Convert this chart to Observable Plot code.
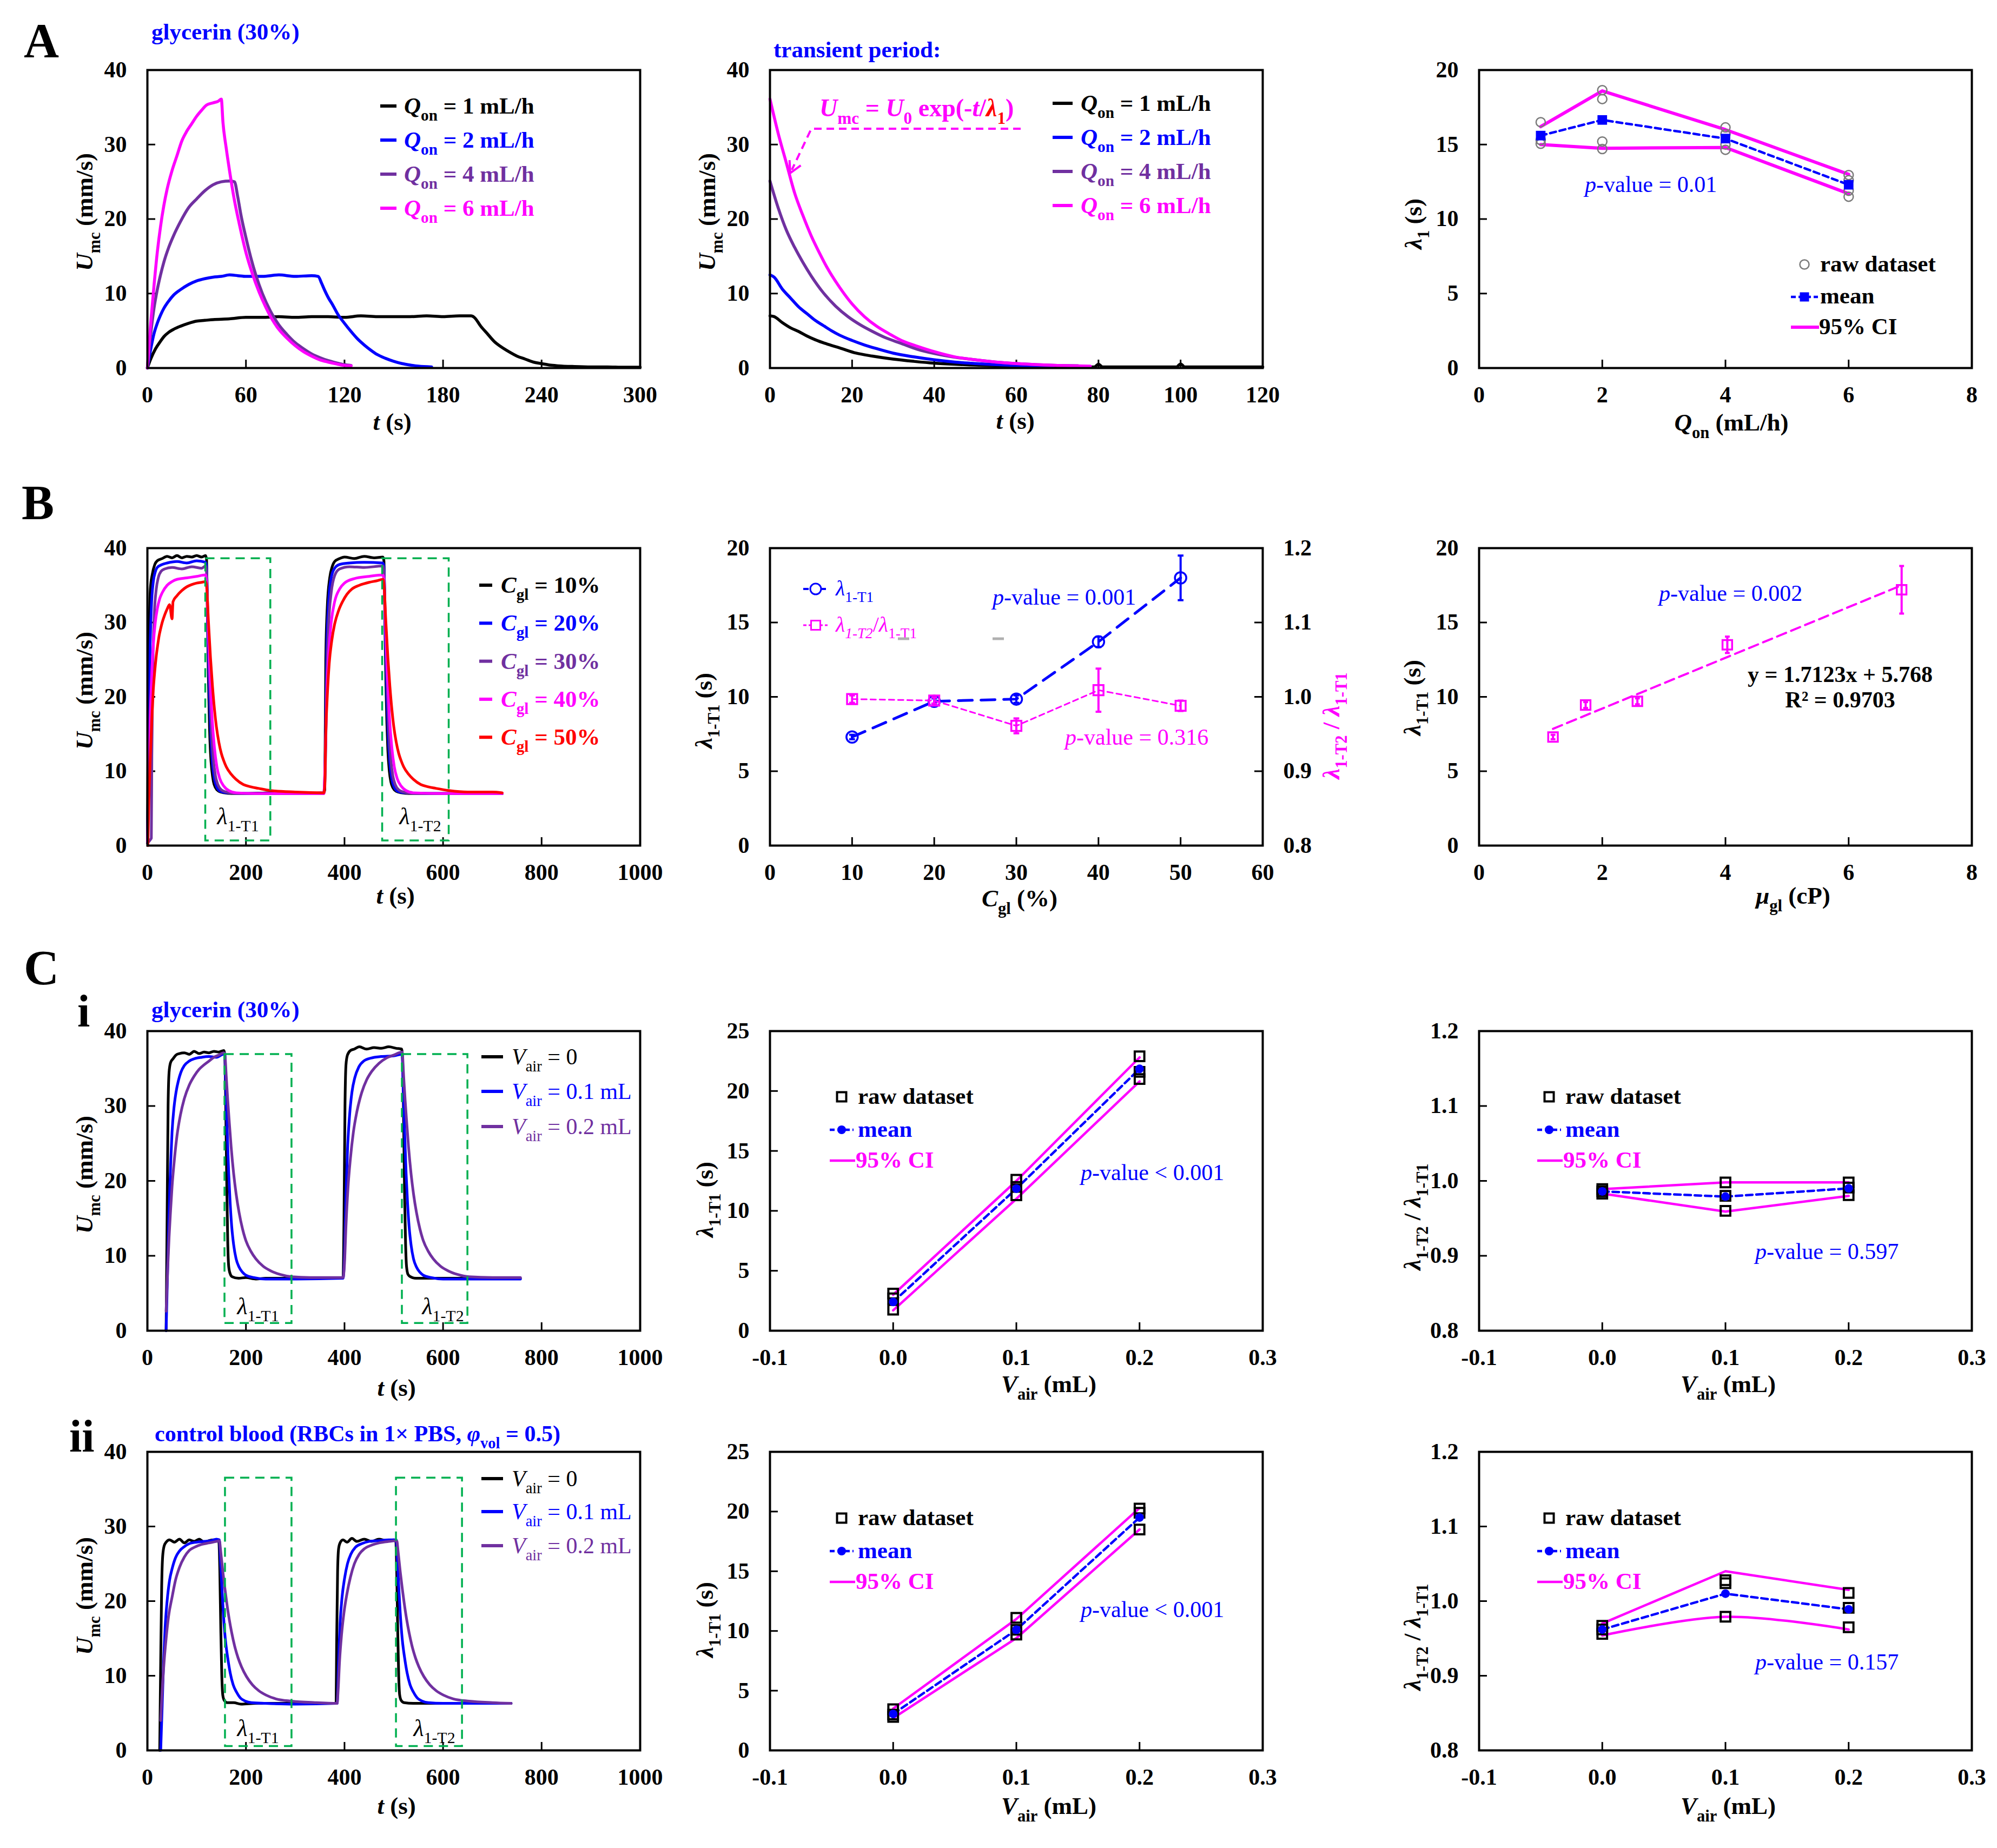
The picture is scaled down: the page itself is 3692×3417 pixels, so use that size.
<!DOCTYPE html>
<html><head><meta charset="utf-8">
<script src="https://cdn.jsdelivr.net/npm/d3@7"></script>
<script src="https://cdn.jsdelivr.net/npm/@observablehq/plot@0.6"></script>
<style>
html,body{margin:0;padding:0;background:#fff;}
#fig{position:relative;width:3692px;height:3417px;background:#fff;overflow:hidden;}
#fig svg{position:absolute;}
</style></head><body><div id="fig"></div>
<script>
// ---------------- DATA ----------------
// Panel A (left): U_mc vs t for Q_on = 1, 2, 4, 6 mL/h
const a1Q1 = [[0,0],[2,1.2],[5,2.6],[8,3.6],[10,4.2],[13,4.8],[16,5.2],[20,5.6],[25,6.0],[30,6.3],[35,6.4],[40,6.5],[50,6.6],[60,6.8],[70,6.8],[80,6.9],[90,6.8],[100,6.9],[110,6.9],[120,6.8],[130,7.0],[140,6.9],[150,6.9],[160,6.9],[170,7.0],[180,6.9],[190,7.0],[197,7.0],[199,6.8],[203,5.6],[207,4.6],[211,3.6],[215,2.9],[220,2.2],[225,1.6],[230,1.2],[235,0.8],[240,0.6],[245,0.4],[250,0.3],[260,0.2],[270,0.15],[280,0.15],[290,0.1],[300,0.1]];
const a1Q2 = [[0,0],[2,2.5],[4,4.6],[6,6.0],[8,7.1],[10,8.0],[13,9.0],[16,9.8],[20,10.5],[25,11.2],[30,11.7],[35,12.0],[40,12.2],[45,12.3],[50,12.5],[55,12.4],[60,12.3],[70,12.3],[80,12.5],[90,12.3],[100,12.4],[104,12.3],[106,11.4],[108,10.4],[110,9.5],[113,8.4],[116,7.2],[120,6.0],[124,4.9],[128,3.9],[132,3.1],[136,2.4],[140,1.8],[145,1.3],[150,0.9],[155,0.6],[160,0.4],[165,0.25],[173,0.15]];
const a1Q4 = [[0,0],[2,4.5],[4,8.0],[6,10.5],[8,12.5],[10,14.2],[13,16.2],[16,17.8],[20,19.6],[25,21.5],[30,22.7],[35,23.8],[40,24.6],[45,25.0],[50,25.1],[53,25.0],[55,23.0],[57,20.5],[60,17.5],[63,14.8],[66,12.5],[70,10.0],[75,7.6],[80,5.8],[85,4.5],[90,3.4],[95,2.6],[100,1.9],[105,1.4],[110,1.0],[115,0.7],[120,0.45],[124,0.35]];
const a1Q6 = [[0,0],[2,6],[4,11],[6,15.5],[8,19],[10,21.8],[12,24],[15,26.5],[18,28.5],[21,30.5],[24,31.8],[27,32.8],[30,33.8],[33,34.6],[36,35.3],[40,35.6],[43,35.8],[45,36.1],[46,33],[48,29.5],[50,26.5],[53,22.5],[56,19.3],[60,15.5],[64,12.6],[68,10.2],[72,8.2],[76,6.5],[80,5.2],[85,4.0],[90,3.0],[95,2.2],[100,1.6],[105,1.1],[110,0.8],[115,0.55],[120,0.35],[124,0.3]];
// Panel A (middle): transient period
const a2Q1 = [[0,7.0],[1,6.9],[3,6.1],[5,5.4],[7,4.9],[9,4.3],[11,3.8],[14,3.2],[17,2.7],[21,2.0],[25,1.6],[30,1.2],[35,0.9],[40,0.65],[45,0.5],[50,0.4],[55,0.3],[60,0.25],[70,0.2],[79,0.15],[80,0.5],[81,0.15],[90,0.15],[99,0.15],[100,0.55],[101,0.15],[110,0.15],[120,0.15]];
const a2Q2 = [[0,12.5],[1,12.2],[3,10.6],[5,9.4],[7,8.2],[9,7.3],[11,6.4],[13,5.7],[15,5.0],[17,4.4],[20,3.7],[23,3.1],[26,2.6],[30,2.0],[35,1.5],[40,1.1],[45,0.8],[50,0.6],[55,0.45],[60,0.35],[65,0.3],[69,0.25]];
const a2Q4 = [[0,25.1],[2,21.5],[4,18.5],[6,16.2],[8,14.2],[10,12.4],[13,10.1],[16,8.3],[19,6.9],[22,5.8],[25,4.9],[28,4.1],[32,3.3],[36,2.5],[40,1.95],[45,1.45],[50,1.1],[55,0.8],[60,0.6],[65,0.45],[70,0.35],[75,0.3]];
const a2Q6 = [[0,36.1],[2,31.5],[4,27.5],[6,23.5],[8,20.5],[10,17.8],[12,15.5],[14,13.4],[17,10.8],[20,8.6],[23,6.9],[26,5.6],[29,4.6],[32,3.7],[36,2.9],[40,2.2],[45,1.5],[50,1.1],[55,0.8],[60,0.6],[65,0.45],[70,0.35],[78,0.25]];
// Panel A (right): lambda_1 vs Q_on
const qon = [1, 2, 4, 6];
const a3Raw = [[1,16.5],[1,15.3],[1,15.05],[2,18.65],[2,18.05],[2,15.2],[2,14.7],[4,16.15],[4,15.7],[4,15.0],[4,14.65],[6,12.95],[6,12.6],[6,11.9],[6,11.5]];
const a3Mean = [15.6, 16.65, 15.4, 12.3];
const a3Hi = [16.2, 18.6, 16.0, 13.0];
const a3Lo = [15.0, 14.75, 14.8, 11.7];
// Panel B (left): U_mc vs t for C_gl = 10..50 %
const b1C10 = [[0,0.5],[2,20],[4,30],[6,34.5],[10,36.5],[15,37.8],[20,38.3],[30,38.6],[40,38.9],[50,38.7],[60,39.0],[70,38.7],[80,38.9],[90,38.8],[100,39.0],[110,38.8],[118,39.0],[120,38.5],[122,30],[124,22],[126,16],[128,12.5],[131,10],[134,8.6],[138,7.8],[145,7.3],[155,7.1],[170,7.0],[200,7.0],[250,7.1],[300,7.0],[358,7.1],[360,7.5],[362,25],[365,32],[370,36],[375,37.5],[380,38.2],[390,38.6],[400,38.8],[420,38.6],[440,38.9],[460,38.7],[478,38.8],[480,38.3],[482,30],[484,22],[486,16.5],[488,12.8],[491,10],[494,8.6],[498,7.8],[505,7.3],[515,7.1],[530,7.0],[600,7.0],[650,7.0],[720,7.0]];
const b1C20 = [[0,0.5],[3,15],[5,25],[8,32],[12,35.5],[16,36.8],[20,37.4],[30,37.8],[40,38.0],[60,38.2],[80,38.0],[100,38.3],[118,38.1],[120,37.5],[123,28],[126,20],[129,14.5],[132,11.2],[136,9.0],[140,8.0],[148,7.3],[160,7.1],[200,7.0],[300,7.0],[358,7.1],[361,12],[364,26],[368,33],[373,36],[380,37.3],[390,37.8],[410,38.0],[440,38.1],[478,38.0],[480,37.5],[483,28],[486,20],[489,14.5],[492,11.2],[496,9.0],[500,8.0],[508,7.3],[520,7.1],[600,7.0],[720,7.0]];
const b1C30 = [[0,0.3],[6,0.8],[8,1],[9,12],[11,24],[14,31],[18,34.5],[22,36],[28,36.9],[35,37.2],[50,37.4],[70,37.2],[90,37.5],[110,37.3],[118,37.6],[120,37],[123,30],[126,23],[130,15.5],[134,11.5],[138,9.4],[143,8.2],[150,7.5],[160,7.2],[180,7.0],[250,7.0],[358,7.0],[361,10],[364,22],[368,30],[373,34],[380,36.3],[390,37.2],[410,37.5],[440,37.4],[478,37.6],[480,37.0],[483,30],[486,23],[490,15.5],[494,11.5],[498,9.4],[503,8.2],[510,7.5],[520,7.2],[540,7.0],[720,7.0]];
const b1C40 = [[0,0.5],[3,10],[6,18],[9,23.5],[12,27],[16,30],[20,31.8],[25,33.2],[30,34],[40,35],[50,35.5],[60,35.8],[80,36.0],[100,36.2],[118,36.4],[120,35.5],[123,30],[127,23],[131,17.5],[136,13.2],[141,10.6],[147,9.0],[155,8.0],[165,7.4],[180,7.1],[220,7.0],[300,7.0],[358,7.0],[361,12],[364,20],[368,26],[373,30],[380,32.8],[390,34.5],[400,35.3],[420,35.9],[450,36.2],[478,36.4],[480,35.6],[483,30],[487,23],[491,17.5],[496,13.2],[501,10.6],[507,9.0],[515,8.0],[525,7.4],[540,7.1],[600,7.0],[720,7.0]];
const b1C50 = [[1,0],[3,6],[6,12],[9,17],[12,21],[15,23.5],[18,25.5],[21,27],[24,28.3],[27,29.2],[30,30],[35,31],[40,31.8],[45,32.4],[50,30.5],[52,32.8],[60,33.6],[70,34.3],[80,34.8],[90,35.1],[100,35.3],[110,35.4],[118,35.5],[120,35],[124,30],[128,25.3],[132,21.5],[136,18.4],[140,16],[145,13.9],[150,12.4],[155,11.4],[160,10.6],[170,9.6],[180,8.9],[195,8.2],[210,7.9],[225,7.7],[250,7.4],[300,7.2],[358,7.1],[360,8],[362,15],[365,20],[369,24.5],[374,27.5],[380,29.8],[388,31.6],[396,32.8],[405,33.8],[415,34.5],[430,35.0],[450,35.4],[465,35.6],[478,35.8],[480,35.2],[484,30],[488,25.3],[492,21.5],[496,18.4],[500,16],[505,13.9],[510,12.4],[515,11.4],[520,10.6],[530,9.6],[540,8.9],[555,8.2],[570,7.9],[585,7.7],[612,7.4],[650,7.2],[700,7.2],[720,7.1]];
const b1Boxes = [[118,250,0.65,38.6],[477,612,0.65,38.6]];
// Panel B (middle): lambda_1-T1 and ratio vs C_gl
const cgl = [10, 20, 30, 40, 50];
const b2Lam = [7.3, 9.7, 9.85, 13.7, 18.0];
const b2LamErr = [0.15, 0.2, 0.25, 0.35, 1.5];
const b2Ratio = [0.997, 0.995, 0.961, 1.009, 0.988];
const b2RatioErr = [0.005, 0.004, 0.01, 0.029, 0.007];
// Panel B (right): lambda_1-T1 vs viscosity
const mugl = [1.2, 1.73, 2.57, 4.03, 6.86];
const b3Lam = [7.3, 9.45, 9.7, 13.5, 17.2];
const b3Err = [0.15, 0.2, 0.2, 0.55, 1.6];
const b3Trend = [[1.2, 7.85], [6.8, 17.4]];
// Panel C-i (left): glycerin, V_air = 0, 0.1, 0.2 mL
const c1V0 = [[38,0],[40,15],[42,30],[44,34.5],[47,35.8],[52,36.3],[58,36.8],[65,37.0],[75,37.1],[85,36.9],[95,37.3],[105,37.0],[115,37.2],[125,37.1],[135,37.3],[145,37.2],[155,37.4],[157,36.8],[159,30],[161,20],[163,12],[165,8.6],[168,7.6],[172,7.2],[185,7.0],[200,7.1],[220,6.9],[240,7.0],[300,7.0],[360,7.0],[397,7.1],[399,15],[401,30],[403,35.5],[406,36.8],[412,37.4],[420,37.6],[430,37.9],[445,37.6],[460,37.8],[475,37.7],[490,37.9],[505,37.7],[516,37.6],[518,36],[520,28],[522,18],[524,11.5],[526,8.5],[529,7.5],[534,7.2],[545,7.0],[570,7.0],[620,7.0],[700,7.0],[757,7.0]];
const c1V01 = [[38,0],[41,8],[44,16],[47,22],[50,26.5],[54,29.8],[58,31.8],[63,33.4],[68,34.5],[75,35.4],[85,36.0],[95,36.3],[110,36.5],[125,36.6],[140,36.5],[150,36.8],[157,37.0],[159,33],[162,26.5],[165,21],[168,17],[171,14],[175,11.5],[180,9.6],[186,8.5],[193,7.8],[200,7.4],[215,7.1],[240,6.9],[300,6.9],[397,7.0],[400,10],[403,18],[406,24],[410,28.5],[415,31.8],[421,33.8],[429,35.2],[439,36.0],[454,36.4],[474,36.6],[500,36.7],[517,36.9],[519,33],[522,26.5],[525,21],[528,17],[531,14],[535,11.5],[540,9.6],[546,8.5],[553,7.8],[560,7.4],[575,7.1],[600,6.9],[757,6.9]];
const c1V02 = [[38,2.6],[41,8],[44,12.5],[47,16],[50,19.2],[55,23],[60,26],[67,28.8],[75,31],[85,32.8],[95,34],[105,34.9],[115,35.5],[125,36.0],[135,36.5],[145,36.8],[155,37.1],[157,37.0],[160,34],[163,30.8],[166,28],[170,24.5],[175,21],[180,18.3],[186,15.8],[193,13.6],[200,12.0],[210,10.6],[220,9.6],[235,8.6],[250,8.0],[270,7.5],[293,7.2],[330,7.1],[397,7.1],[400,9],[403,14],[407,19],[412,23],[418,26.5],[425,29.2],[435,31.8],[445,33.5],[455,34.6],[470,35.7],[485,36.4],[500,36.8],[517,37.2],[520,34],[523,30.8],[526,28],[530,24.5],[535,21],[540,18.3],[546,15.8],[553,13.6],[560,12.0],[570,10.6],[580,9.6],[595,8.6],[610,8.0],[630,7.5],[653,7.2],[700,7.1],[757,7.1]];
const c1Boxes = [[157,293,1.0,36.9],[517,650,1.0,36.9]];
// Panel C-i (middle, right)
const vair = [0, 0.1, 0.2];
const c2Raw = [[0,3.1],[0,2.7],[0,1.75],[0.1,12.6],[0.1,12.0],[0.1,11.3],[0.2,22.9],[0.2,21.6],[0.2,21.0]];
const c2Mean = [2.4, 11.85, 21.85];
const c2Hi = [3.0, 12.5, 22.8];
const c2Lo = [1.7, 11.0, 20.8];
const c3Raw = [[0,0.989],[0,0.986],[0,0.983],[0.1,0.998],[0.1,0.980],[0.1,0.960],[0.2,0.998],[0.2,0.991],[0.2,0.981]];
const c3Mean = [0.986, 0.979, 0.990];
const c3Hi = [0.989, 0.998, 0.998];
const c3Lo = [0.983, 0.959, 0.980];
// Panel C-ii (left): control blood
const d1V0 = [[25,0],[27,12],[29,22],[31,26],[34,27.4],[38,27.9],[45,28.2],[55,27.9],[65,28.3],[75,27.8],[85,28.2],[95,28.0],[105,28.3],[115,27.9],[125,28.1],[135,28.2],[145,28.0],[147,24],[149,16],[151,10],[153,7.4],[156,6.7],[162,6.4],[175,6.4],[190,6.2],[220,6.3],[300,6.3],[383,6.3],[384,14],[386,24],[388,27],[391,27.8],[397,28.2],[405,27.9],[415,28.4],[425,28.0],[440,28.3],[455,28.0],[470,28.3],[485,28.1],[500,28.2],[504,28.0],[506,24],[508,16],[510,10],[512,7.4],[515,6.7],[521,6.4],[540,6.3],[600,6.3],[700,6.3],[738,6.3]];
const d1V01 = [[27,0],[30,6],[33,12],[36,16.5],[40,20],[45,22.8],[50,24.3],[57,25.8],[65,26.7],[75,27.3],[85,27.7],[100,27.9],[115,28.0],[130,28.1],[140,28.3],[146,28.2],[148,26],[151,22],[154,18.5],[158,15],[163,12.4],[168,10.4],[174,8.8],[181,7.8],[189,7.0],[199,6.6],[211,6.4],[240,6.3],[300,6.2],[385,6.3],[388,12],[391,17],[395,20.5],[400,23],[406,25],[413,26.3],[422,27.2],[435,27.7],[450,28.0],[470,28.1],[490,28.2],[505,28.2],[507,26],[510,22],[513,18.5],[517,15],[522,12.4],[527,10.4],[533,8.8],[540,7.8],[548,7.0],[558,6.6],[570,6.4],[600,6.3],[738,6.3]];
const d1V02 = [[27,4],[30,8],[34,12],[38,15],[43,18],[50,20.5],[57,22.8],[65,24.5],[75,25.9],[85,26.8],[95,27.2],[110,27.6],[125,27.8],[140,28.0],[146,28.1],[149,26.5],[153,24],[157,21.8],[161,19.8],[166,17.6],[171,15.8],[177,14],[184,12.4],[191,11.2],[201,9.9],[213,8.8],[226,8.0],[241,7.4],[261,6.9],[293,6.6],[340,6.4],[385,6.3],[387,8],[390,12],[394,15.5],[399,18.5],[405,21],[412,23.2],[420,25],[430,26.3],[440,27],[455,27.5],[470,27.8],[490,28.0],[506,28.1],[509,26.5],[513,24],[517,21.8],[521,19.8],[526,17.6],[531,15.8],[537,14],[544,12.4],[551,11.2],[561,9.9],[573,8.8],[586,8.0],[601,7.4],[621,6.9],[653,6.6],[700,6.4],[738,6.3]];
const d1Boxes = [[158,293,0.55,36.5],[505,639,0.55,36.5]];
const d2Raw = [[0,3.45],[0,3.0],[0,2.8],[0.1,11.1],[0.1,10.1],[0.1,9.7],[0.2,20.25],[0.2,19.9],[0.2,18.5]];
const d2Mean = [3.05, 10.1, 19.5];
const d2Hi = [3.5, 11.0, 20.3];
const d2Lo = [2.7, 9.4, 18.5];
const d3Raw = [[0,0.967],[0,0.962],[0,0.956],[0.1,1.028],[0.1,1.024],[0.1,0.979],[0.2,1.011],[0.2,0.991],[0.2,0.965]];
const d3Mean = [0.962, 1.010, 0.989];
const d3Hi = [0.970, 1.040, 1.015];
const d3Lo = [0.954, 0.979, 0.962];

// tick labels
const tTicks300 = [0, 60, 120, 180, 240, 300];
const tTicks120 = [0, 20, 40, 60, 80, 100, 120];
const tTicks1000 = [0, 200, 400, 600, 800, 1000];
const uTicks = [0, 10, 20, 30, 40];
const lamTicks = [0, 5, 10, 15, 20];
const lam25Ticks = [0, 5, 10, 15, 20, 25];
const q8Ticks = [0, 2, 4, 6, 8];
const cglTicks = [0, 10, 20, 30, 40, 50, 60];
const vTicks = [-0.1, 0, 0.1, 0.2, 0.3];
const ratioTicks = [0.8, 0.9, 1.0, 1.1, 1.2];

// ---------------- STYLE / LAYOUT ----------------
const FONT = '"Liberation Serif","Times New Roman",Times,serif';
const BLUE = "#0000FF", MAG = "#FF00FF", PUR = "#7030A0", RED = "#FF0000", GRN = "#00B050", BLK = "#000000", GRAY = "#7a7a7a";
const FR = {
  A1:[272,129,911,551], A2:[1423,129,911,551], A3:[2734,129,911,551],
  B1:[272,1013,911,550], B2:[1423,1013,911,550], B3:[2734,1013,911,550],
  C1:[272,1906,911,554], C2:[1423,1906,911,554], C3:[2734,1906,911,554],
  D1:[272,2684,911,552], D2:[1423,2684,911,552], D3:[2734,2684,911,552]
};
const fig = document.getElementById("fig");
const ML = 230, MR = 200, MT = 40, MB = 120;
const str = d => String(d);
const f1 = d => d.toFixed(1);

function addPlot(fr, o) {
  const [fx, fy, fw, fh] = fr;
  const marks = [];
  const xin = o.x.ticks ? o.x.ticks.filter(t => t > o.x.domain[0] + 1e-9 && t < o.x.domain[1] - 1e-9) : [];
  const yin = o.y.ticks.filter(t => t > o.y.domain[0] + 1e-9 && t < o.y.domain[1] - 1e-9);
  if (o.x.axis !== null) marks.push(Plot.tickX(xin, {x: d => d, insetTop: fh - 15, stroke: BLK, strokeWidth: 3}));
  if (o.y.axis === "right") marks.push(Plot.tickY(yin, {y: d => d, insetLeft: fw - 15, stroke: BLK, strokeWidth: 3}));
  else marks.push(Plot.tickY(yin, {y: d => d, insetRight: fw - 15, stroke: BLK, strokeWidth: 3}));
  marks.push(...o.marks);
  if (o.frame !== false) marks.push(Plot.frame({stroke: BLK, strokeWidth: 4}));
  const svg = Plot.plot({
    width: ML + fw + MR, height: MT + fh + MB,
    marginLeft: ML, marginRight: MR, marginTop: MT, marginBottom: MB,
    style: `background:transparent;overflow:visible;font-family:${FONT};font-size:42px;font-weight:bold;color:#000;max-width:none;`,
    x: {domain: o.x.domain, ticks: o.x.ticks, tickFormat: o.x.format || str, tickSize: 0, tickPadding: 34, label: null, axis: o.x.axis === null ? null : "bottom"},
    y: {domain: o.y.domain, ticks: o.y.ticks, tickFormat: o.y.format || str, tickSize: 0, tickPadding: 38, label: null, axis: o.y.axis || "left"},
    marks
  });
  svg.style.left = (fx - ML) + "px";
  svg.style.top = (fy - MT) + "px";
  fig.appendChild(svg);
  return svg;
}

const ts = (data, color, w = 5.5) => Plot.line(data, {x: d => d[0], y: d => d[1], stroke: color, strokeWidth: w, curve: "monotone-x"});
const boxes = data => Plot.rect(data, {x1: d => d[0], x2: d => d[1], y1: d => d[2], y2: d => d[3], fill: "none", stroke: GRN, strokeWidth: 3.5, strokeDasharray: "17,11"});
const capSym = {draw(ctx, size) { const w = Math.sqrt(size) / 2; ctx.moveTo(-w, 0); ctx.lineTo(w, 0); }};
const zipXY = (xs, ys) => xs.map((x, i) => ({x, y: ys[i]}));

// A1
addPlot(FR.A1, {x: {domain: [0, 300], ticks: tTicks300}, y: {domain: [0, 40], ticks: uTicks},
  marks: [ts(a1Q1, BLK), ts(a1Q2, BLUE), ts(a1Q4, PUR), ts(a1Q6, MAG)]});
// A2
addPlot(FR.A2, {x: {domain: [0, 120], ticks: tTicks120}, y: {domain: [0, 40], ticks: uTicks},
  marks: [ts(a2Q1, BLK), ts(a2Q2, BLUE), ts(a2Q4, PUR), ts(a2Q6, MAG)]});
// A3
addPlot(FR.A3, {x: {domain: [0, 8], ticks: q8Ticks}, y: {domain: [0, 20], ticks: lamTicks},
  marks: [
    Plot.line(zipXY(qon, a3Hi), {x: "x", y: "y", stroke: MAG, strokeWidth: 6}),
    Plot.line(zipXY(qon, a3Lo), {x: "x", y: "y", stroke: MAG, strokeWidth: 6}),
    Plot.dot(a3Raw, {x: d => d[0], y: d => d[1], r: 8.5, stroke: GRAY, strokeWidth: 2.5, fill: "none"}),
    Plot.line(zipXY(qon, a3Mean), {x: "x", y: "y", stroke: BLUE, strokeWidth: 4.5, strokeDasharray: "11,7"}),
    Plot.dot(zipXY(qon, a3Mean), {x: "x", y: "y", r: 10, symbol: "square", fill: BLUE, stroke: "none"})
  ]});
// B1
addPlot(FR.B1, {x: {domain: [0, 1000], ticks: tTicks1000}, y: {domain: [0, 40], ticks: uTicks},
  marks: [ts(b1C10, BLK, 5), ts(b1C20, BLUE, 5), ts(b1C30, PUR, 5), ts(b1C40, MAG, 5), ts(b1C50, RED, 5), boxes(b1Boxes)]});
// B2 (left axis)
const b2Rows = cgl.map((c, i) => ({x: c, y: b2Lam[i], lo: b2Lam[i] - b2LamErr[i], hi: b2Lam[i] + b2LamErr[i]}));
addPlot(FR.B2, {x: {domain: [0, 60], ticks: cglTicks}, y: {domain: [0, 20], ticks: lamTicks},
  marks: [
    Plot.line(b2Rows, {x: "x", y: "y", stroke: BLUE, strokeWidth: 5, strokeDasharray: "26,16"}),
    Plot.ruleX(b2Rows, {x: "x", y1: "lo", y2: "hi", stroke: BLUE, strokeWidth: 4}),
    Plot.dot(b2Rows, {x: "x", y: "lo", symbol: capSym, r: 6, stroke: BLUE, strokeWidth: 4}),
    Plot.dot(b2Rows, {x: "x", y: "hi", symbol: capSym, r: 6, stroke: BLUE, strokeWidth: 4}),
    Plot.dot(b2Rows, {x: "x", y: "y", r: 10.5, stroke: BLUE, strokeWidth: 3.5, fill: "none"})
  ]});
// B2 (right axis, ratio)
const b2RRows = cgl.map((c, i) => ({x: c, y: b2Ratio[i], lo: b2Ratio[i] - b2RatioErr[i], hi: b2Ratio[i] + b2RatioErr[i]}));
addPlot(FR.B2, {x: {domain: [0, 60], axis: null}, y: {domain: [0.8, 1.2], ticks: ratioTicks, format: f1, axis: "right"}, frame: false,
  marks: [
    Plot.line(b2RRows, {x: "x", y: "y", stroke: MAG, strokeWidth: 3, strokeDasharray: "10,7"}),
    Plot.ruleX(b2RRows, {x: "x", y1: "lo", y2: "hi", stroke: MAG, strokeWidth: 4}),
    Plot.dot(b2RRows, {x: "x", y: "lo", symbol: capSym, r: 6, stroke: MAG, strokeWidth: 4}),
    Plot.dot(b2RRows, {x: "x", y: "hi", symbol: capSym, r: 6, stroke: MAG, strokeWidth: 4}),
    Plot.dot(b2RRows, {x: "x", y: "y", r: 10.5, symbol: "square", stroke: MAG, strokeWidth: 3.5, fill: "none"})
  ]});
// B3
const b3Rows = mugl.map((m, i) => ({x: m, y: b3Lam[i], lo: b3Lam[i] - b3Err[i], hi: b3Lam[i] + b3Err[i]}));
addPlot(FR.B3, {x: {domain: [0, 8], ticks: q8Ticks}, y: {domain: [0, 20], ticks: lamTicks},
  marks: [
    Plot.line(b3Trend, {x: d => d[0], y: d => d[1], stroke: MAG, strokeWidth: 4, strokeDasharray: "18,10"}),
    Plot.ruleX(b3Rows, {x: "x", y1: "lo", y2: "hi", stroke: MAG, strokeWidth: 4}),
    Plot.dot(b3Rows, {x: "x", y: "lo", symbol: capSym, r: 5, stroke: MAG, strokeWidth: 4}),
    Plot.dot(b3Rows, {x: "x", y: "hi", symbol: capSym, r: 5, stroke: MAG, strokeWidth: 4}),
    Plot.dot(b3Rows, {x: "x", y: "y", r: 10, symbol: "square", stroke: MAG, strokeWidth: 3.5, fill: "none"})
  ]});
// stats panels helper
function statMarks(xs, raw, mean, hi, lo, loCurve = "linear") {
  return [
    Plot.line(zipXY(xs, hi), {x: "x", y: "y", stroke: MAG, strokeWidth: 4.5}),
    Plot.line(zipXY(xs, lo), {x: "x", y: "y", stroke: MAG, strokeWidth: 4.5, curve: loCurve}),
    Plot.line(zipXY(xs, mean), {x: "x", y: "y", stroke: BLUE, strokeWidth: 4.5, strokeDasharray: "12,7"}),
    Plot.dot(raw, {x: d => d[0], y: d => d[1], r: 10, symbol: "square", stroke: BLK, strokeWidth: 4, fill: "none"}),
    Plot.dot(zipXY(xs, mean), {x: "x", y: "y", r: 8, fill: BLUE, stroke: "none"})
  ];
}
// C-i
addPlot(FR.C1, {x: {domain: [0, 1000], ticks: tTicks1000}, y: {domain: [0, 40], ticks: uTicks},
  marks: [ts(c1V0, BLK, 5), ts(c1V01, BLUE, 5), ts(c1V02, PUR, 5), boxes(c1Boxes)]});
addPlot(FR.C2, {x: {domain: [-0.1, 0.3], ticks: vTicks, format: f1}, y: {domain: [0, 25], ticks: lam25Ticks},
  marks: statMarks(vair, c2Raw, c2Mean, c2Hi, c2Lo)});
addPlot(FR.C3, {x: {domain: [-0.1, 0.3], ticks: vTicks, format: f1}, y: {domain: [0.8, 1.2], ticks: ratioTicks, format: f1},
  marks: statMarks(vair, c3Raw, c3Mean, c3Hi, c3Lo)});
// C-ii
addPlot(FR.D1, {x: {domain: [0, 1000], ticks: tTicks1000}, y: {domain: [0, 40], ticks: uTicks},
  marks: [ts(d1V0, BLK, 5), ts(d1V01, BLUE, 5), ts(d1V02, PUR, 5), boxes(d1Boxes)]});
addPlot(FR.D2, {x: {domain: [-0.1, 0.3], ticks: vTicks, format: f1}, y: {domain: [0, 25], ticks: lam25Ticks},
  marks: statMarks(vair, d2Raw, d2Mean, d2Hi, d2Lo)});
addPlot(FR.D3, {x: {domain: [-0.1, 0.3], ticks: vTicks, format: f1}, y: {domain: [0.8, 1.2], ticks: ratioTicks, format: f1},
  marks: statMarks(vair, d3Raw, d3Mean, d3Hi, d3Lo, "catmull-rom")});

// ---------------- ANNOTATION OVERLAY ----------------
const ov = d3.select(fig).append("svg").attr("width", 3692).attr("height", 3417).style("left", "0px").style("top", "0px");
function rich(x, y, s, o = {}) {
  const size = o.size || 43;
  const t = ov.append("text").attr("x", x).attr("y", y)
    .attr("font-family", FONT).attr("font-size", size)
    .attr("font-weight", o.weight || "bold").attr("fill", o.color || BLK)
    .attr("text-anchor", o.anchor || "start").style("white-space", "pre");
  if (o.rotate) t.attr("transform", `rotate(${o.rotate},${x},${y})`);
  const segs = []; let cur = "", it = false, mode = 0, alt = false;
  const flush = () => { if (cur) segs.push({s: cur, it, mode, alt}); cur = ""; };
  for (let i = 0; i < s.length; i++) {
    const c = s[i];
    if (c === "*") { flush(); it = !it; }
    else if (c === "~") { flush(); alt = !alt; }
    else if ((c === "_" || c === "^") && s[i + 1] === "{") { flush(); mode = c === "_" ? 1 : 2; i++; }
    else if (c === "}" && mode) { flush(); mode = 0; }
    else cur += c;
  }
  flush();
  let shift = 0;
  for (const g of segs) {
    const sp = t.append("tspan").text(g.s);
    const target = g.mode === 1 ? 0.3 * size : g.mode === 2 ? -0.38 * size : 0;
    if (target !== shift) sp.attr("dy", target - shift);
    shift = target;
    if (g.mode) sp.attr("font-size", size * 0.68);
    if (g.it) sp.attr("font-style", "italic");
    if (g.alt) sp.attr("fill", o.alt);
  }
  return t;
}
function seg(x1, y1, x2, y2, color, w, dash) {
  const l = ov.append("line").attr("x1", x1).attr("y1", y1).attr("x2", x2).attr("y2", y2)
    .attr("stroke", color).attr("stroke-width", w);
  if (dash) l.attr("stroke-dasharray", dash);
}
function sq(cx, cy, side, o) {
  ov.append("rect").attr("x", cx - side / 2).attr("y", cy - side / 2).attr("width", side).attr("height", side)
    .attr("fill", o.fill || "none").attr("stroke", o.stroke || "none").attr("stroke-width", o.sw || 0);
}
function circ(cx, cy, r, o) {
  ov.append("circle").attr("cx", cx).attr("cy", cy).attr("r", r)
    .attr("fill", o.fill || "none").attr("stroke", o.stroke || "none").attr("stroke-width", o.sw || 0);
}

// panel letters
rich(44, 106, "A", {size: 90});
rich(40, 960, "B", {size: 90});
rich(44, 1820, "C", {size: 90});
rich(143, 1898, "i", {size: 84});
rich(128, 2684, "ii", {size: 84});
// panel headers
rich(280, 73, "glycerin (30%)", {color: BLUE});
rich(1430, 106, "transient period:", {color: BLUE});
rich(280, 1881, "glycerin (30%)", {color: BLUE});
rich(286, 2665, "control blood (RBCs in 1× PBS, *φ*_{vol} = 0.5)", {color: BLUE, size: 42});

// axis titles
const yT = (x, y, s, color) => rich(x, y, s, {rotate: -90, anchor: "middle", size: 45, color});
const xT = (x, y, s) => rich(x, y, s, {anchor: "middle", size: 45});
yT(171, 392, "*U*_{mc} (mm/s)");
yT(1322, 392, "*U*_{mc} (mm/s)");
yT(2628, 414, "*λ*_{1} (s)");
yT(171, 1277, "*U*_{mc} (mm/s)");
yT(1316, 1314, "*λ*_{1-T1} (s)");
yT(2476, 1342, "*λ*_{1-T2} / *λ*_{1-T1}", MAG);
yT(2626, 1290, "*λ*_{1-T1} (s)");
yT(171, 2172, "*U*_{mc} (mm/s)");
yT(1318, 2218, "*λ*_{1-T1} (s)");
yT(2626, 2250, "*λ*_{1-T2} / *λ*_{1-T1}");
yT(171, 2951, "*U*_{mc} (mm/s)");
yT(1318, 2995, "*λ*_{1-T1} (s)");
yT(2626, 3027, "*λ*_{1-T2} / *λ*_{1-T1}");
xT(725, 795, "*t* (s)");
xT(1877, 793, "*t* (s)");
xT(3201, 796, "*Q*_{on} (mL/h)");
xT(731, 1671, "*t* (s)");
xT(1885, 1676, "*C*_{gl} (%)");
xT(3315, 1671, "*μ*_{gl} (cP)");
xT(733, 2581, "*t* (s)");
xT(1939, 2574, "*V*_{air} (mL)");
xT(3195, 2574, "*V*_{air} (mL)");
xT(733, 3354, "*t* (s)");
xT(1939, 3354, "*V*_{air} (mL)");
xT(3195, 3354, "*V*_{air} (mL)");

// legends: A1 / A2
const qLeg = [["1", BLK], ["2", BLUE], ["4", PUR], ["6", MAG]];
qLeg.forEach(([q, c], i) => {
  const y = 210 + i * 63;
  seg(703, y - 14, 733, y - 14, c, 6);
  rich(747, y, `*Q*_{on} = ${q} mL/h`, {color: c});
  const y2 = 205 + i * 63;
  seg(1946, y2 - 14, 1983, y2 - 14, c, 6);
  rich(1998, y2, `*Q*_{on} = ${q} mL/h`, {color: c});
});
// A2 formula + dashed arrow
rich(1515, 215, "*U*_{mc} = *U*_{0} exp(-*t*/~*λ*_{1}~)", {color: MAG, size: 46, alt: RED});
ov.append("path").attr("d", "M1887,238 L1500,238 L1464,314").attr("fill", "none")
  .attr("stroke", MAG).attr("stroke-width", 4).attr("stroke-dasharray", "14,9");
{
  const tx = 1461, ty = 320, ang = Math.atan2(320 - 238, 1461 - 1500);
  const L = 24, sp = 0.5;
  const p1 = [tx - L * Math.cos(ang - sp), ty - L * Math.sin(ang - sp)];
  const p2 = [tx - L * Math.cos(ang + sp), ty - L * Math.sin(ang + sp)];
  ov.append("path").attr("d", `M${p1[0]},${p1[1]} L${tx},${ty} L${p2[0]},${p2[1]}`)
    .attr("fill", "none").attr("stroke", MAG).attr("stroke-width", 4);
}
// A3 legend + p-value
circ(3336, 489, 8.5, {stroke: GRAY, sw: 2.5});
rich(3365, 502, "raw dataset");
seg(3311, 549, 3361, 549, BLUE, 4.5, "9,5");
sq(3336, 549, 17, {fill: BLUE});
rich(3365, 561, "mean");
seg(3311, 605, 3363, 605, MAG, 6);
rich(3363, 618, "95% CI");
rich(2930, 355, "*p*-value = 0.01", {color: BLUE, weight: "normal", size: 42});

// B1 legend + labels
const cLeg = [["10", BLK], ["20", BLUE], ["30", PUR], ["40", MAG], ["50", RED]];
cLeg.forEach(([c, col], i) => {
  const y = 1096 + i * 70.3;
  seg(886, y - 14, 910, y - 14, col, 6);
  rich(926, y, `*C*_{gl} = ${c}%`, {color: col});
});
rich(440, 1524, "*λ*_{1-T1}", {anchor: "middle", weight: "normal", size: 44});
rich(777, 1524, "*λ*_{1-T2}", {anchor: "middle", weight: "normal", size: 44});
// B2 legend + p-values
seg(1485, 1089, 1530, 1089, BLUE, 4, "10,6");
circ(1508, 1089, 10, {fill: "#fff", stroke: BLUE, sw: 3});
rich(1545, 1101, "*λ*_{1-T1}", {color: BLUE, weight: "normal", size: 40});
seg(1485, 1156, 1530, 1156, MAG, 3, "6,4");
sq(1508, 1156, 17, {fill: "#fff", stroke: MAG, sw: 3});
rich(1545, 1168, "*λ*_{*1-T2*}/*λ*_{1-T1}", {color: MAG, weight: "normal", size: 40});
seg(1660, 1181, 1681, 1181, "#b0b0b0", 5);
seg(1835, 1181, 1856, 1181, "#b0b0b0", 5);
rich(1835, 1118, "*p*-value = 0.001", {color: BLUE, weight: "normal", size: 42});
rich(1969, 1377, "*p*-value = 0.316", {color: MAG, weight: "normal", size: 42});
// B3 annotations
rich(3067, 1111, "*p*-value = 0.002", {color: BLUE, weight: "normal", size: 42});
rich(3402, 1261, "y = 1.7123x + 5.768", {anchor: "middle", size: 42});
rich(3402, 1308, "R² = 0.9703", {anchor: "middle", size: 42});

// C-i / C-ii time-series legends and box labels
const vLeg = [["*V*_{air} = 0", BLK], ["*V*_{air} = 0.1 mL", BLUE], ["*V*_{air} = 0.2 mL", PUR]];
vLeg.forEach(([s, col], i) => {
  const y1 = [1968, 2032, 2097][i];
  seg(890, y1 - 14, 930, y1 - 14, col, 6);
  rich(946, y1, s, {color: col, weight: "normal", size: 42});
  const y2 = [2748, 2809, 2872][i];
  seg(890, y2 - 14, 930, y2 - 14, col, 6);
  rich(946, y2, s, {color: col, weight: "normal", size: 42});
});
rich(477, 2430, "*λ*_{1-T1}", {anchor: "middle", weight: "normal", size: 44});
rich(819, 2430, "*λ*_{1-T2}", {anchor: "middle", weight: "normal", size: 44});
rich(477, 3210, "*λ*_{1-T1}", {anchor: "middle", weight: "normal", size: 44});
rich(803, 3210, "*λ*_{1-T2}", {anchor: "middle", weight: "normal", size: 44});

// stats legends
function statLegend(x0, y0) {
  sq(x0, y0, 17, {stroke: BLK, sw: 4});
  rich(x0 + 30, y0 + 13, "raw dataset");
  seg(x0 - 22, y0 + 61, x0 + 22, y0 + 61, BLUE, 4.5, "9,5");
  circ(x0, y0 + 61, 8, {fill: BLUE});
  rich(x0 + 30, y0 + 74, "mean", {color: BLUE});
  seg(x0 - 22, y0 + 118, x0 + 25, y0 + 118, MAG, 4.5);
  rich(x0 + 26, y0 + 131, "95% CI", {color: MAG});
}
statLegend(1556, 2028);
statLegend(2864, 2028);
statLegend(1556, 2807);
statLegend(2864, 2807);
rich(1998, 2182, "*p*-value < 0.001", {color: BLUE, weight: "normal", size: 42});
rich(3245, 2328, "*p*-value = 0.597", {color: BLUE, weight: "normal", size: 42});
rich(1998, 2990, "*p*-value < 0.001", {color: BLUE, weight: "normal", size: 42});
rich(3245, 3087, "*p*-value = 0.157", {color: BLUE, weight: "normal", size: 42});
</script></body></html>
